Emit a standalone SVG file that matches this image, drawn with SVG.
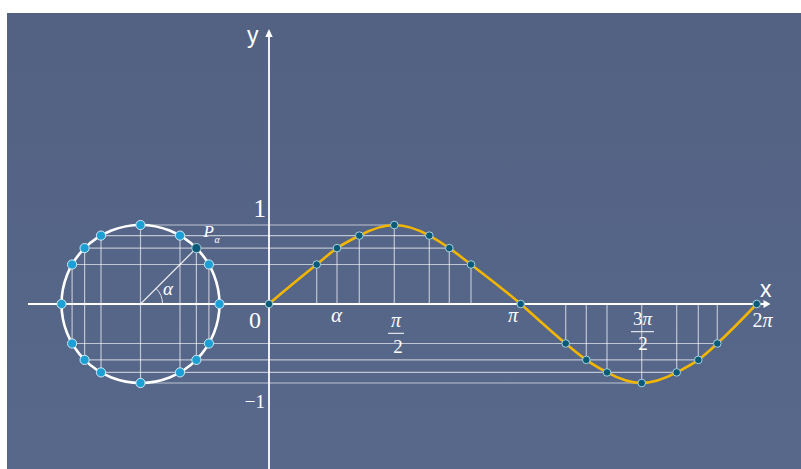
<svg xmlns="http://www.w3.org/2000/svg" width="801" height="469" viewBox="0 0 801 469">
<style>
.grid{stroke:#ffffff;stroke-opacity:0.62;stroke-width:1.2;fill:none}
.axis{stroke:#ffffff;stroke-width:1.8;fill:none}
.cdot{fill:#1b9fd5;stroke:#cfeaf5;stroke-width:1}
.sdot{fill:#0b5b78;stroke:#a8d2e0;stroke-width:1}
.serif{font-family:"Liberation Serif","Times New Roman",serif;fill:#ffffff}
.it{font-style:italic}
.sans{font-family:"Liberation Sans",Arial,sans-serif;fill:#ffffff}
</style>
<defs>
<linearGradient id="bg" x1="0" y1="0" x2="0" y2="1">
<stop offset="0" stop-color="#536283"/>
<stop offset="1" stop-color="#57688b"/>
</linearGradient>
</defs>
<rect x="0" y="0" width="801" height="469" fill="#ffffff"/>
<rect x="7" y="13" width="794" height="456" fill="url(#bg)"/>
<g id="gridlines">
<line class="grid" x1="140.5" y1="225" x2="394.3" y2="225"/>
<line class="grid" x1="101" y1="235.6" x2="429.3" y2="235.6"/>
<line class="grid" x1="84.6" y1="248.1" x2="449.3" y2="248.1"/>
<line class="grid" x1="72.1" y1="264.5" x2="471" y2="264.5"/>
<line class="grid" x1="72.1" y1="343.5" x2="717.3" y2="343.5"/>
<line class="grid" x1="84.6" y1="359.9" x2="698.3" y2="359.9"/>
<line class="grid" x1="101" y1="372.4" x2="676.7" y2="372.4"/>
<line class="grid" x1="140.5" y1="383" x2="641.7" y2="383"/>
<line class="grid" x1="101" y1="235.6" x2="101" y2="372.4"/>
<line class="grid" x1="84.6" y1="248.1" x2="84.6" y2="359.9"/>
<line class="grid" x1="72.1" y1="264.5" x2="72.1" y2="343.5"/>
<line class="grid" x1="140.5" y1="225" x2="140.5" y2="383"/>
<line class="grid" x1="180" y1="235.6" x2="180" y2="372.4"/>
<line class="grid" x1="196.4" y1="248.1" x2="196.4" y2="359.9"/>
<line class="grid" x1="208.9" y1="264.5" x2="208.9" y2="343.5"/>
<line class="grid" x1="316.7" y1="264.5" x2="316.7" y2="304"/>
<line class="grid" x1="337" y1="248.1" x2="337" y2="304"/>
<line class="grid" x1="359.3" y1="235.6" x2="359.3" y2="304"/>
<line class="grid" x1="394.3" y1="225" x2="394.3" y2="304"/>
<line class="grid" x1="429.3" y1="235.6" x2="429.3" y2="304"/>
<line class="grid" x1="449.3" y1="248.1" x2="449.3" y2="304"/>
<line class="grid" x1="471" y1="264.5" x2="471" y2="304"/>
<line class="grid" x1="565.7" y1="343.5" x2="565.7" y2="304"/>
<line class="grid" x1="586.3" y1="359.9" x2="586.3" y2="304"/>
<line class="grid" x1="607" y1="372.4" x2="607" y2="304"/>
<line class="grid" x1="641.7" y1="383" x2="641.7" y2="304"/>
<line class="grid" x1="676.7" y1="372.4" x2="676.7" y2="304"/>
<line class="grid" x1="698.3" y1="359.9" x2="698.3" y2="304"/>
<line class="grid" x1="717.3" y1="343.5" x2="717.3" y2="304"/>
</g>
<g id="axes">
<line class="axis" x1="28" y1="304" x2="765" y2="304"/>
<polygon points="770.5,304 763.5,300 763.5,308" fill="#ffffff"/>
<line class="axis" x1="269" y1="469" x2="269" y2="35"/>
<polygon points="269,29 265.3,37 272.7,37" fill="#ffffff"/>
</g>
<g id="circle">
<circle cx="140.5" cy="304" r="79" fill="none" stroke="#ffffff" stroke-width="2.6"/>
<line x1="140.5" y1="304" x2="196.4" y2="248.1" stroke="#ffffff" stroke-opacity="0.85" stroke-width="1.3"/>
<path d="M162.5,304 A22,22 0 0 0 156.1,288.4" fill="none" stroke="#ffffff" stroke-opacity="0.8" stroke-width="1"/>
</g>
<g id="sine-curve">
<path d="M269,304 C284.9,290.21 301.98,276.44 316.7,264.5 C324.06,258.53 329.9,253.02 337,248.14 C344.1,243.27 352.67,239.03 359.3,235.58 C372.57,228.69 382.63,225 394.3,225 C405.97,225 416.8,228.69 429.3,235.58 C435.55,239.03 442.35,243.27 449.3,248.14 C456.25,253.02 463.24,258.53 471,264.5 C486.52,276.44 504.91,290.21 520.7,304 C536.49,317.79 551.33,331.56 565.7,343.5 C572.89,349.47 579.42,354.99 586.3,359.86 C593.19,364.74 600.66,368.97 607,372.42 C619.68,379.31 630.08,383 641.7,383 C653.32,383 663.67,379.31 676.7,372.42 C683.22,368.97 691.54,364.74 698.3,359.86 C705.07,354.99 710.85,349.47 717.3,343.5 C730.2,331.56 743.57,317.79 756.7,304" fill="none" stroke="#f3b600" stroke-width="2.6"/>
</g>
<g id="circle-dots">
<circle class="cdot" cx="219.5" cy="304" r="4.6"/>
<circle class="cdot" cx="208.9" cy="264.5" r="4.6"/>
<circle class="cdot" cx="180" cy="235.6" r="4.6"/>
<circle class="cdot" cx="140.5" cy="225" r="4.6"/>
<circle class="cdot" cx="101" cy="235.6" r="4.6"/>
<circle class="cdot" cx="84.6" cy="248.1" r="4.6"/>
<circle class="cdot" cx="72.1" cy="264.5" r="4.6"/>
<circle class="cdot" cx="61.5" cy="304" r="4.6"/>
<circle class="cdot" cx="72.1" cy="343.5" r="4.6"/>
<circle class="cdot" cx="84.6" cy="359.9" r="4.6"/>
<circle class="cdot" cx="101" cy="372.4" r="4.6"/>
<circle class="cdot" cx="140.5" cy="383" r="4.6"/>
<circle class="cdot" cx="180" cy="372.4" r="4.6"/>
<circle class="cdot" cx="196.4" cy="359.9" r="4.6"/>
<circle class="cdot" cx="208.9" cy="343.5" r="4.6"/>
<circle class="sdot" cx="196.4" cy="248.1" r="4.6"/>
</g>
<g id="curve-dots">
<circle class="sdot" cx="269" cy="304" r="3.8"/>
<circle class="sdot" cx="316.7" cy="264.5" r="3.8"/>
<circle class="sdot" cx="337" cy="248.1" r="3.8"/>
<circle class="sdot" cx="359.3" cy="235.6" r="3.8"/>
<circle class="sdot" cx="394.3" cy="225" r="3.8"/>
<circle class="sdot" cx="429.3" cy="235.6" r="3.8"/>
<circle class="sdot" cx="449.3" cy="248.1" r="3.8"/>
<circle class="sdot" cx="471" cy="264.5" r="3.8"/>
<circle class="sdot" cx="520.7" cy="304" r="3.8"/>
<circle class="sdot" cx="565.7" cy="343.5" r="3.8"/>
<circle class="sdot" cx="586.3" cy="359.9" r="3.8"/>
<circle class="sdot" cx="607" cy="372.4" r="3.8"/>
<circle class="sdot" cx="641.7" cy="383" r="3.8"/>
<circle class="sdot" cx="676.7" cy="372.4" r="3.8"/>
<circle class="sdot" cx="698.3" cy="359.9" r="3.8"/>
<circle class="sdot" cx="717.3" cy="343.5" r="3.8"/>
<circle class="sdot" cx="756.7" cy="304" r="3.8"/>
</g>
<g id="labels">
<text class="sans" x="247" y="43" font-size="23">y</text>
<text class="sans" x="760" y="297" font-size="23">x</text>
<text class="serif" x="266" y="217" font-size="25" text-anchor="end">1</text>
<text class="serif" x="249" y="328" font-size="24">0</text>
<text class="serif" x="265" y="408" font-size="19" text-anchor="end">−1</text>
<text class="serif it" x="203.5" y="237" font-size="17">P</text>
<text class="serif it" x="214.5" y="243" font-size="10">α</text>
<text class="serif it" x="163" y="295" font-size="19">α</text>
<text class="serif it" x="331" y="322" font-size="21">α</text>
<text class="serif it" x="391" y="327" font-size="20">π</text>
<line x1="388" y1="333.3" x2="404" y2="333.3" stroke="#ffffff" stroke-width="1"/>
<text class="serif" x="398" y="353" font-size="19" text-anchor="middle">2</text>
<text class="serif it" x="508" y="322" font-size="20">π</text>
<text class="serif" x="642.5" y="325" font-size="19" text-anchor="middle">3<tspan class="it">π</tspan></text>
<line x1="631" y1="331.7" x2="654" y2="331.7" stroke="#ffffff" stroke-width="1"/>
<text class="serif" x="643" y="350" font-size="19" text-anchor="middle">2</text>
<text class="serif" x="762.5" y="327" font-size="20" text-anchor="middle">2<tspan class="it">π</tspan></text>
</g>
</svg>
